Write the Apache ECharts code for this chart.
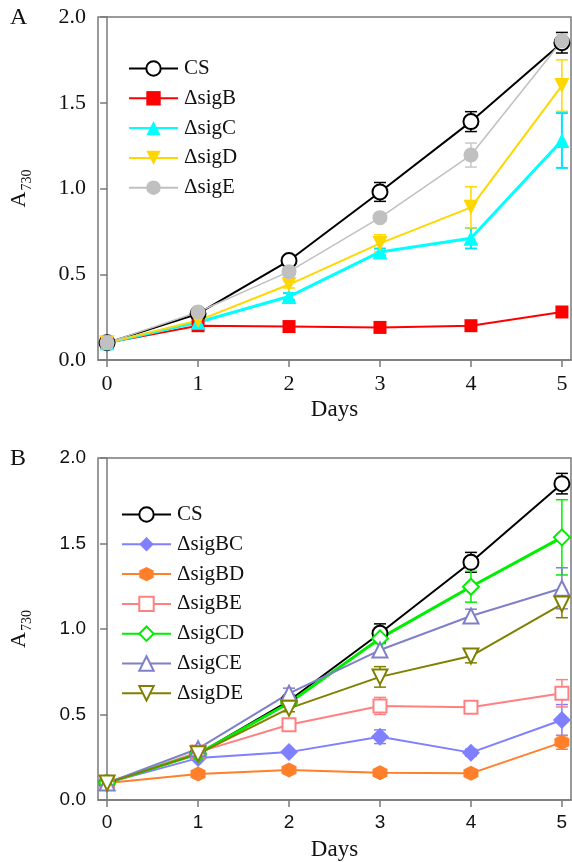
<!DOCTYPE html>
<html>
<head>
<meta charset="utf-8">
<script src="https://cdn.jsdelivr.net/npm/echarts@6/dist/echarts.min.js"></script>
<style>
  html, body { margin: 0; padding: 0; background: #fff; }
  #chart { width: 572px; height: 862px; }
</style>
</head>
<body>
<div id="chart"></div>
<script>
// growth curves, A730 vs days
const days = [0, 1, 2, 3, 4, 5]

// panel A
const csA = [0.10, 0.27, 0.58, 0.98, 1.39, 1.85]
const csErrA = [0, 0.01, 0.02, 0.055, 0.058, 0.06]
const sigB = [0.10, 0.20, 0.195, 0.19, 0.20, 0.28]
const sigBErr = [0, 0.01, 0.01, 0.01, 0.01, 0.01]
const sigC = [0.10, 0.22, 0.37, 0.63, 0.71, 1.28]
const sigCErr = [0, 0.01, 0.02, 0.02, 0.06, 0.16]
const sigD = [0.10, 0.23, 0.44, 0.68, 0.89, 1.60]
const sigDErr = [0, 0.01, 0.02, 0.05, 0.12, 0.15]
const sigE = [0.10, 0.28, 0.515, 0.83, 1.195, 1.86]
const sigEErr = [0, 0.01, 0.02, 0.02, 0.07, 0.04]

// panel B
const csB = [0.10, 0.27, 0.58, 0.975, 1.39, 1.85]
const csErrB = [0, 0.01, 0.02, 0.055, 0.058, 0.06]
const sigBC = [0.10, 0.245, 0.28, 0.37, 0.277, 0.468]
const sigBCErr = [0, 0.01, 0.01, 0.04, 0.02, 0.09]
const sigBD = [0.10, 0.152, 0.175, 0.16, 0.156, 0.337]
const sigBDErr = [0, 0.01, 0.01, 0.01, 0.01, 0.04]
const sigBE = [0.10, 0.28, 0.44, 0.55, 0.542, 0.624]
const sigBEErr = [0, 0.01, 0.02, 0.05, 0.02, 0.08]
const sigCD = [0.10, 0.27, 0.567, 0.945, 1.247, 1.536]
const sigCDErr = [0, 0.01, 0.02, 0.03, 0.09, 0.22]
const sigCE = [0.10, 0.30, 0.624, 0.877, 1.076, 1.238]
const sigCEErr = [0, 0.01, 0.03, 0.04, 0.04, 0.12]
const sigDE = [0.10, 0.27, 0.536, 0.72, 0.842, 1.146]
const sigDEErr = [0, 0.01, 0.02, 0.06, 0.04, 0.08]

const namesA = ['CS', 'ΔsigB', 'ΔsigC', 'ΔsigD', 'ΔsigE']
const namesB = ['CS', 'ΔsigBC', 'ΔsigBD', 'ΔsigBE', 'ΔsigCD', 'ΔsigCE', 'ΔsigDE']

const SERIF = 'Liberation Serif'
const SANS = 'Liberation Sans'
const AXIS_GRAY = '#7a7a7a'
const hexagon = 'path://M5,0 L9.33,2.5 L9.33,7.5 L5,10 L0.67,7.5 L0.67,2.5 Z'

const lineSeries = (name, idx, values, color, opts = {}) => ({
  name,
  type: 'line',
  xAxisIndex: idx,
  yAxisIndex: idx,
  data: values.map((v, i) => [days[i], v]),
  color,
  symbol: opts.symbol || 'circle',
  symbolSize: opts.size || 14,
  symbolRotate: opts.rotate || 0,
  lineStyle: { width: opts.width || 2, color },
  itemStyle: { color, borderWidth: opts.border || 0, borderColor: color },
  z: 3,
  animation: false
})

const errorSeries = (idx, values, errs, color, width = 1.5) => ({
  type: 'custom',
  xAxisIndex: idx,
  yAxisIndex: idx,
  z: 2,
  silent: true,
  animation: false,
  data: values
    .map((v, i) => [days[i], v - errs[i], v + errs[i]])
    .filter((d) => d[2] - d[1] > 0.03),
  renderItem: (params, api) => {
    const x = api.value(0)
    const lo = api.coord([x, api.value(1)])
    const hi = api.coord([x, api.value(2)])
    const hw = 6
    const style = { stroke: color, lineWidth: width }
    return {
      type: 'group',
      children: [
        { type: 'line', shape: { x1: lo[0], y1: lo[1], x2: hi[0], y2: hi[1] }, style },
        { type: 'line', shape: { x1: hi[0] - hw, y1: hi[1], x2: hi[0] + hw, y2: hi[1] }, style },
        { type: 'line', shape: { x1: lo[0] - hw, y1: lo[1], x2: lo[0] + hw, y2: lo[1] }, style }
      ]
    }
  }
})

const makeXAxis = (idx, font, size) => ({
  gridIndex: idx,
  type: 'value',
  min: -0.1,
  max: 5.1,
  name: 'Days',
  nameLocation: 'middle',
  nameGap: 38,
  nameTextStyle: { fontFamily: SERIF, fontSize: 23, color: '#111' },
  axisLine: { show: true, onZero: false, lineStyle: { color: AXIS_GRAY, width: 1.5 } },
  axisTick: { show: true, length: 7, customValues: days, lineStyle: { color: AXIS_GRAY, width: 1.5 } },
  axisLabel: { customValues: days, margin: 13, fontFamily: font, fontSize: size, color: '#111' },
  splitLine: { show: false }
})

const makeYAxis = (idx, font, size) => ({
  gridIndex: idx,
  type: 'value',
  min: 0,
  max: 2,
  interval: 0.5,
  name: '{a|A}{s|730}',
  nameLocation: 'middle',
  nameRotate: 90,
  nameGap: 64,
  nameTextStyle: {
    color: '#111',
    rich: {
      a: { fontFamily: SERIF, fontSize: 22, lineHeight: 30, verticalAlign: 'middle', color: '#111' },
      s: { fontFamily: SERIF, fontSize: 14, lineHeight: 30, verticalAlign: 'bottom', color: '#111', padding: [0, 0, 0, 1] }
    }
  },
  axisLine: { show: true, lineStyle: { color: AXIS_GRAY, width: 1.5 } },
  axisTick: { show: true, length: 7, lineStyle: { color: AXIS_GRAY, width: 1.5 } },
  axisLabel: {
    margin: 12,
    fontFamily: font,
    fontSize: size,
    color: '#111',
    formatter: (v) => v.toFixed(1)
  },
  splitLine: { show: false }
})

const legendBase = {
  orient: 'vertical',
  itemWidth: 49,
  itemHeight: 18,
  itemGap: 8.8,
  textStyle: { fontFamily: SERIF, fontSize: 21, color: '#111', lineHeight: 18, padding: [0, 0, 0, 1] }
}

const chart = echarts.init(document.getElementById('chart'), null, { renderer: 'canvas' })

chart.setOption({
  backgroundColor: '#fff',
  animation: false,
  grid: [
    { left: 96, top: 17, width: 475, height: 343, show: true, borderColor: AXIS_GRAY, borderWidth: 1.5, backgroundColor: 'transparent' },
    { left: 96, top: 458, width: 475, height: 342, show: true, borderColor: AXIS_GRAY, borderWidth: 1.5, backgroundColor: 'transparent' }
  ],
  xAxis: [makeXAxis(0, SERIF, 22), makeXAxis(1, SANS, 19)],
  yAxis: [makeYAxis(0, SERIF, 22), makeYAxis(1, SANS, 19)],
  legend: [
    { ...legendBase, left: 123, top: 53, data: namesA },
    { ...legendBase, left: 116, top: 499, data: namesB }
  ],
  graphic: [
    { type: 'text', left: 10, top: 6, style: { text: 'A', fontFamily: SERIF, fontSize: 24, fill: '#111' } },
    { type: 'text', left: 10, top: 447, style: { text: 'B', fontFamily: SERIF, fontSize: 24, fill: '#111' } }
  ],
  series: [
    // panel A
    errorSeries(0, csA, csErrA, '#000'),
    errorSeries(0, sigC, sigCErr, '#00e5ff', 2),
    errorSeries(0, sigD, sigDErr, '#ffd700'),
    errorSeries(0, sigE, sigEErr, '#c8c8c8'),
    lineSeries('CS', 0, csA, '#000000', { symbol: 'emptyCircle', size: 15, width: 2, border: 1.5 }),
    lineSeries('ΔsigB', 0, sigB, '#ff0000', { symbol: 'rect', size: 13, width: 2 }),
    lineSeries('ΔsigC', 0, sigC, '#00ffff', { symbol: 'triangle', size: 15, width: 3 }),
    lineSeries('ΔsigD', 0, sigD, '#ffd700', { symbol: 'triangle', rotate: 180, size: 15, width: 2 }),
    lineSeries('ΔsigE', 0, sigE, '#c0c0c0', { symbol: 'circle', size: 15, width: 1.5 }),
    // panel B
    errorSeries(1, csB, csErrB, '#000'),
    errorSeries(1, sigBC, sigBCErr, '#7f7fff'),
    errorSeries(1, sigBD, sigBDErr, '#ff7f2a'),
    errorSeries(1, sigBE, sigBEErr, '#ff8080'),
    errorSeries(1, sigCD, sigCDErr, '#00ee00'),
    errorSeries(1, sigCE, sigCEErr, '#8080c8'),
    errorSeries(1, sigDE, sigDEErr, '#808000'),
    lineSeries('CS', 1, csB, '#000000', { symbol: 'emptyCircle', size: 15, width: 2, border: 1.5 }),
    lineSeries('ΔsigBC', 1, sigBC, '#7f7fff', { symbol: 'diamond', size: 18, width: 2 }),
    lineSeries('ΔsigBD', 1, sigBD, '#ff7f2a', { symbol: hexagon, size: 15, width: 2 }),
    lineSeries('ΔsigBE', 1, sigBE, '#ff8080', { symbol: 'emptyRect', size: 13, width: 2, border: 3 }),
    lineSeries('ΔsigCD', 1, sigCD, '#00ee00', { symbol: 'emptyDiamond', size: 16, width: 3, border: 2.5 }),
    lineSeries('ΔsigCE', 1, sigCE, '#8080c8', { symbol: 'emptyTriangle', size: 15, width: 2, border: 2 }),
    lineSeries('ΔsigDE', 1, sigDE, '#808000', { symbol: 'emptyTriangle', rotate: 180, size: 15, width: 2, border: 2 })
  ]
})

window.addEventListener('resize', () => chart.resize())
</script>
</body>
</html>
